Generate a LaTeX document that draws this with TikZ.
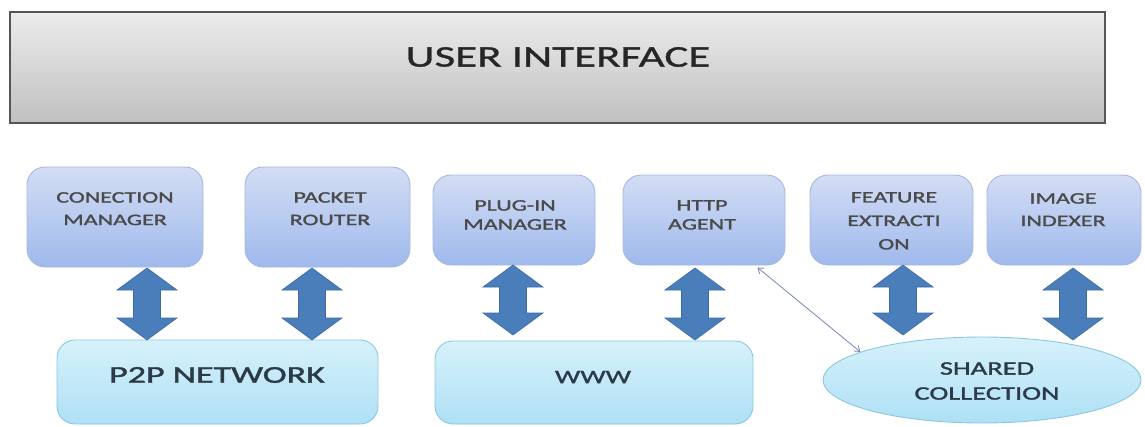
\documentclass[tikz,border=0pt]{standalone}
\usepackage{fontspec}
\setmainfont{Carlito}[FakeStretch=1.5]
\newfontfamily\labelfont{Carlito}[FakeStretch=1.5, FakeBold=1.6]
\newfontfamily\titlefont{Carlito}[FakeStretch=1.5, FakeBold=1.0]
\usetikzlibrary{arrows.meta,shapes.geometric,calc}

\definecolor{uitop}{HTML}{ECECEC}
\definecolor{uibot}{HTML}{C0C0C0}
\definecolor{uiedge}{HTML}{555555}
\definecolor{modtop}{HTML}{D3DDF5}
\definecolor{modbot}{HTML}{9FB9EC}
\definecolor{modedge}{HTML}{A6B7DE}
\definecolor{nettop}{HTML}{D6F1FB}
\definecolor{netbot}{HTML}{AEE0F5}
\definecolor{netedge}{HTML}{8CC7DD}
\definecolor{fatblue}{HTML}{4A7EBB}
\definecolor{fatedge}{HTML}{3C6AA3}
\definecolor{linkblue}{HTML}{7686B0}
\definecolor{modtxt}{HTML}{4A4A4A}
\definecolor{nettxt}{HTML}{2C3946}

\tikzset{
  uibox/.style={rectangle, draw=uiedge, line width=2.4pt, top color=uitop, bottom color=uibot, inner sep=0pt},
  modbox/.style={rectangle, rounded corners=18pt, draw=modedge, line width=0.9pt, top color=modtop, bottom color=modbot, inner sep=0pt},
  netbox/.style={rectangle, rounded corners=18pt, draw=netedge, line width=0.9pt, top color=nettop, bottom color=netbot, inner sep=0pt},
  netoval/.style={ellipse, draw=netedge, line width=0.9pt, top color=nettop, bottom color=netbot, inner sep=0pt},
  modtext/.style={inner sep=0pt, align=center, text=modtxt, anchor=north, font=\labelfont\fontsize{16}{22.5}\selectfont},
  nettext/.style={inner sep=0pt, align=center, text=nettxt},
  fatarrow/.style={fill=fatblue, draw=fatedge, line width=0.6pt, line join=miter},
  link/.style={draw=linkblue, line width=0.8pt, {Straight Barb[length=5pt,width=7pt]}-{Straight Barb[length=5pt,width=7pt]}}
}

% vertical double block arrow between two named coordinates (upper end, lower end)
\newcommand\blockarrow[2]{%
  \path[fatarrow] let \p1=(#1), \p2=(#2) in
    (\x1,\y1) -- (\x1+30pt,\y1-22pt) -- (\x1+13.5pt,\y1-22pt)
    -- (\x1+13.5pt,\y2+22pt) -- (\x1+30pt,\y2+22pt) -- (\x1,\y2)
    -- (\x1-30pt,\y2+22pt) -- (\x1-13.5pt,\y2+22pt)
    -- (\x1-13.5pt,\y1-22pt) -- (\x1-30pt,\y1-22pt) -- cycle;}

\begin{document}
\begin{tikzpicture}[x=1pt,y=-1pt]
\useasboundingbox (0,0) rectangle (1145,426);

% top layer
\node[uibox, minimum width=1095, minimum height=111] (ui) at (557.5,67.5) {};
\node[inner sep=0pt, text=black!85, font=\titlefont\fontsize{30}{36}\selectfont] (uit) at (558,57) {USER INTERFACE};

% module boxes
\node[modbox, minimum width=176, minimum height=100] (cm) at (115,217) {};
\node[modbox, minimum width=165, minimum height=100] (pr) at (327.5,217) {};
\node[modbox, minimum width=162, minimum height=90] (pm) at (514,220) {};
\node[modbox, minimum width=162, minimum height=90] (ha) at (704,220) {};
\node[modbox, minimum width=163, minimum height=90] (fe) at (891.5,220) {};
\node[modbox, minimum width=154, minimum height=90] (ii) at (1064,220) {};

\node[modtext] (cmt) at (115,192) {CONECTION\\MANAGER};
\node[modtext] (prt) at (330,192) {PACKET\\ROUTER};
\node[modtext, font=\labelfont\fontsize{16}{19}\selectfont] (pmt) at (515,200) {PLUG-IN\\MANAGER};
\node[modtext, font=\labelfont\fontsize{16}{19}\selectfont] (hat) at (702,200) {HTTP\\AGENT};
\node[modtext, font=\labelfont\fontsize{16}{23.5}\selectfont] (fet) at (894,192) {FEATURE\\EXTRACTI\\ON};
\node[modtext] (iit) at (1063,193) {IMAGE\\INDEXER};

% network layer
\node[netbox, minimum width=321, minimum height=84] (p2p) at (217.5,382) {};
\node[netbox, minimum width=318, minimum height=83] (www) at (594,382.5) {};
\node[netoval, minimum width=318, minimum height=86] (sc) at (982,380) {};

\node[nettext, font=\labelfont\fontsize{24}{30}\selectfont] (p2pt) at (217,375) {P2P NETWORK};
\node[nettext, font=\labelfont\fontsize{19}{24}\selectfont] (wwwt) at (593,377) {WWW};
\node[nettext, font=\labelfont\fontsize{19}{25}\selectfont] (sct) at (987,381) {SHARED\\COLLECTION};

% block arrow ends
\coordinate (a1t) at (147,268);  \coordinate (a1b) at (147,340);
\coordinate (a2t) at (312,268);  \coordinate (a2b) at (312,340);
\coordinate (a3t) at (513,265);  \coordinate (a3b) at (513,335);
\coordinate (a4t) at (695,268);  \coordinate (a4b) at (695,340);
\coordinate (a5t) at (903,265);  \coordinate (a5b) at (903,335);
\coordinate (a6t) at (1073,268); \coordinate (a6b) at (1073,340);

\blockarrow{a1t}{a1b}
\blockarrow{a2t}{a2b}
\blockarrow{a3t}{a3b}
\blockarrow{a4t}{a4b}
\blockarrow{a5t}{a5b}
\blockarrow{a6t}{a6b}

% link between the HTTP agent and the shared collection
\draw[link] ([xshift=-28pt,yshift=-2pt]ha.south east) -- (sc.167);
\end{tikzpicture}
\end{document}
